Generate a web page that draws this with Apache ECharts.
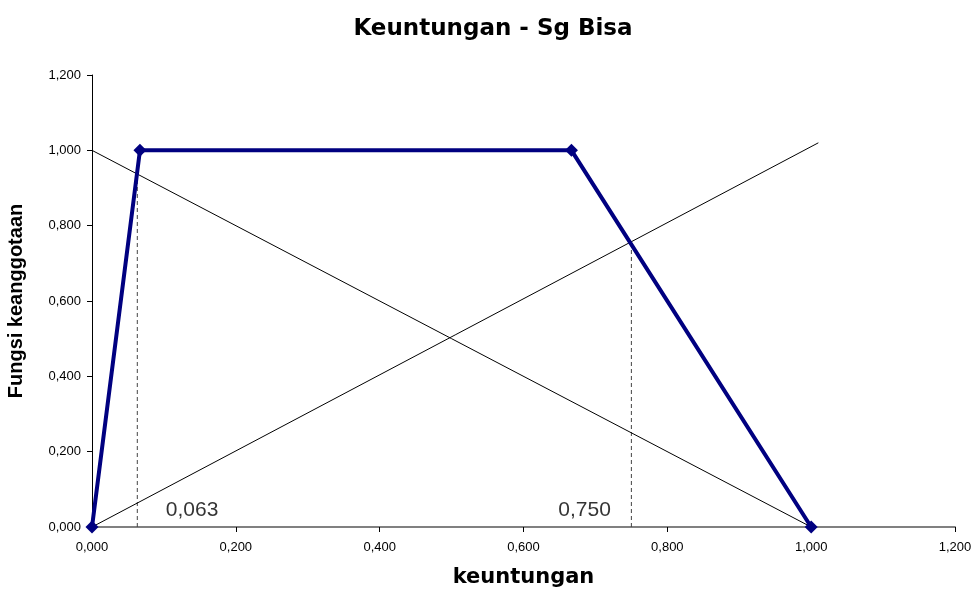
<!DOCTYPE html>
<html>
<head>
<meta charset="utf-8">
<script src="https://cdn.jsdelivr.net/npm/echarts@6/dist/echarts.min.js"></script>
<style>
  html, body { margin: 0; padding: 0; background: #ffffff; }
  #chart { width: 977px; height: 590px; }
</style>
</head>
<body>
<div id="chart"></div>
<script>
// Membership function: keuntungan "Sg Bisa"
const membershipX = [0, 0.0667, 0.6667, 1.0];
const membershipY = [0, 1, 1, 0];

// Helper lines crossing the membership function
const fallingX = [0, 1.0];
const fallingY = [1, 0];
const risingX = [0, 1.01];
const risingY = [0, 1.02];

// Cut points (alpha levels) marked with dashed verticals
const cutX = [0.063, 0.750];
const cutTop = [0.937, 0.750];
const cutLabels = ['0,063', '0,750'];

const axisTicks = [0, 0.2, 0.4, 0.6, 0.8, 1.0, 1.2];

const FONT = 'Liberation Sans, Arial, sans-serif';
const WIDE = 'DejaVu Sans, Liberation Sans, sans-serif';
const fmt = v => v.toFixed(3).replace('.', ',');
const zip = (xs, ys) => xs.map((x, i) => [x, ys[i]]);

const chart = echarts.init(document.getElementById('chart'));

// dashed vertical from the x axis up to each crossing
const cutLines = cutX.map((x, i) => ({
  type: 'line',
  data: [[x, 0], [x, cutTop[i]]],
  symbol: 'none',
  lineStyle: { color: '#444444', width: 1, type: [4, 3] },
  z: 1
}));

// value text next to the foot of each dashed line
const cutText = {
  type: 'scatter',
  data: cutX.map((x, i) => ({
    value: [x, 0],
    label: {
      show: true,
      formatter: cutLabels[i],
      position: i === 0 ? [29, -16] : [-20, -16],
      align: i === 0 ? 'left' : 'right',
      verticalAlign: 'middle',
      color: '#000000',
      fontFamily: FONT,
      fontSize: 21
    }
  })),
  symbolSize: 1,
  itemStyle: { color: 'rgba(0,0,0,0)' },
  label: { show: true, fontFamily: FONT, fontSize: 21, color: '#000000' },
  labelLayout: { hideOverlap: false },
  silent: true,
  z: 3
};

chart.setOption({
  animation: false,
  backgroundColor: '#ffffff',
  title: {
    text: 'Keuntungan - Sg Bisa',
    left: 488,
    top: 13,
    textAlign: 'center',
    textStyle: { fontFamily: WIDE, fontSize: 23, fontWeight: 'bold', color: '#000000' }
  },
  grid: { left: 92, right: 22, top: 75, bottom: 63, containLabel: false, outerBoundsMode: 'none' },
  xAxis: {
    type: 'value',
    min: axisTicks[0],
    max: axisTicks[axisTicks.length - 1],
    interval: 0.2,
    name: 'keuntungan',
    nameLocation: 'middle',
    nameGap: 40,
    nameTextStyle: { fontFamily: WIDE, fontSize: 21, fontWeight: 'bold', color: '#000000', verticalAlign: 'top' },
    axisLine: { show: true, onZero: false, lineStyle: { color: '#808080', width: 2 } },
    axisTick: { show: true, inside: false, length: 5, lineStyle: { color: '#000000', width: 1 } },
    axisLabel: { fontFamily: FONT, fontSize: 13, color: '#000000', margin: 14, formatter: fmt, showMaxLabel: true, showMinLabel: true },
    splitLine: { show: false }
  },
  yAxis: {
    type: 'value',
    min: axisTicks[0],
    max: axisTicks[axisTicks.length - 1],
    interval: 0.2,
    name: 'Fungsi keanggotaan',
    nameLocation: 'middle',
    nameGap: 66,
    nameRotate: 90,
    nameTextStyle: { fontFamily: FONT, fontSize: 20, fontWeight: 'bold', color: '#000000' },
    axisLine: { show: true, onZero: false, lineStyle: { color: '#000000', width: 1 } },
    axisTick: { show: true, inside: false, length: 5, lineStyle: { color: '#000000', width: 1 } },
    axisLabel: { fontFamily: FONT, fontSize: 13, color: '#000000', margin: 11, formatter: fmt, showMaxLabel: true, showMinLabel: true },
    splitLine: { show: false }
  },
  series: [
    {
      type: 'line',
      data: zip(fallingX, fallingY),
      symbol: 'none',
      lineStyle: { color: '#000000', width: 1 },
      z: 2
    },
    {
      type: 'line',
      data: zip(risingX, risingY),
      symbol: 'none',
      lineStyle: { color: '#000000', width: 1 },
      z: 2
    },
    ...cutLines,
    cutText,
    {
      type: 'line',
      data: zip(membershipX, membershipY),
      symbol: 'diamond',
      symbolSize: 13,
      itemStyle: { color: '#000080' },
      lineStyle: { color: '#000080', width: 4 },
      z: 5
    }
  ]
});
</script>
</body>
</html>
